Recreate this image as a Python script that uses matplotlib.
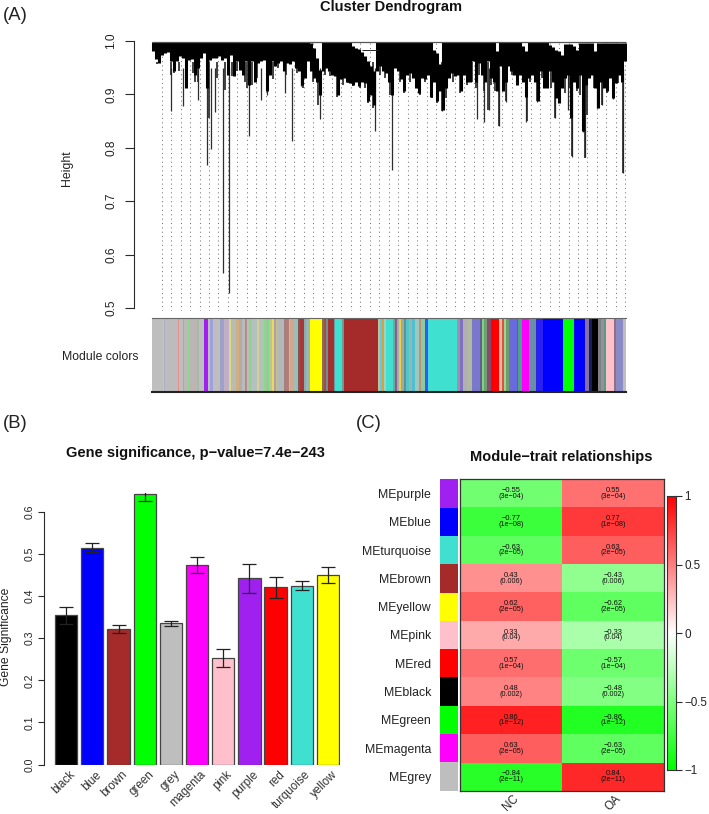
import numpy as np
import matplotlib
matplotlib.use("Agg")
import matplotlib.pyplot as plt
from matplotlib.colors import LinearSegmentedColormap

plt.rcParams['font.family'] = ['Liberation Sans', 'DejaVu Sans']

W, H = 709, 814
DARK = "#2a2a2a"

# (A) dendrogram, sampled left to right
dendro_low = [
    .981, .967, .959, .974, .978, .979, .962, .943, .962, .971, .968, .912, .965, .967, .937, .949, .968, .978,
    .912, .965, .968, .968, .971, .965, .968, .937, .974, .934, .962, .946, .937, .962, .918, .962, .924, .959,
    .962, .965, .906, .937, .962, .953, .959, .962, .943, .959, .956, .962, .949, .943, .918, .931, .962,
    .943, .931, .924, .899, .943, .949, .943, .937, .934, .899, .928, .931, .924, .921, .918, .924, .915, .924,
    .921, .887, .899, .881, .943, .953, .943, .940, .924, .899, .949, .943, .928, .906, .937, .940, .931, .912,
    .903, .931, .928, .937, .896, .924, .887, .906, .871, .912, .931, .940, .934, .937, .906, .937, .924,
    .924, .962, .924, .959, .937, .924, .962, .931, .924, .906, .953, .906, .924, .953, .943, .937, .918, .937,
    .924, .896, .931, .937, .924, .887, .943, .912, .912, .943, .924, .893, .884, .912, .931, .937, .856, .924,
    .912, .937, .831, .918, .931, .937, .912, .875, .924, .912, .906, .931, .893, .921, .937, .924, .962]
dendro_top = (
    [.998] * 53
    + [.996, .987, .968, .946] + [.998] * 10 + [.990, .987, .985, .979, .971, .962, .953, .943]
    + [.998] * 19 + [.984, .977, .956] + [.998] * 9
    + [.998] * 9 + [.981] + [.998] * 8 + [.990, .981] + [.998] * 7 + [.992, .988, .984, .981, .974]
    + [.994] * 3 + [.990, .984] + [.996] * 5 + [.981] + [.996] * 10)

spike_x = [171, 183, 198, 207, 211, 215, 222.7, 229, 249, 261, 267, 285, 292, 301, 320, 375, 392, 437, 442,
           477, 484, 489, 499, 506, 526, 537, 555, 568, 572, 583, 585, 597, 602, 613, 623]
spike_low = [.869, .878, .890, .767, .798, .867, .5655, .528, .823, .890, .899, .903, .812, .915, .853, .832,
             .758, .887, .868, .854, .848, .871, .840, .886, .848, .886, .855, .871, .783, .830, .782, .875,
             .880, .891, .752]
# shorter branches between the sampled columns
twig_x = [157, 171, 174, 179, 186, 193, 195, 198, 208, 209, 217, 225, 232, 237, 245, 247, 252, 257, 267, 273,
          278, 286, 297, 303,
          313, 318, 325, 330, 337, 343, 348, 353, 360, 365, 368, 373, 380, 385, 390, 400, 404, 410, 416, 420,
          425, 432, 437, 442, 446, 453, 460, 467,
          472, 476, 479, 484, 488, 491, 495, 499, 503, 506, 512, 518, 523, 527, 530, 537, 542, 547, 551, 555,
          559, 565, 569, 572, 577, 580, 585, 587, 594, 598, 602, 607, 613, 618, 623]
twig_low = [.956, .937, .940, .943, .937, .940, .924, .924, .912, .856, .931, .909, .934, .943, .924, .912, .918,
            .931, .906, .928, .949, .937, .940, .912,
            .924, .881, .937, .934, .896, .918, .921, .915, .912, .912, .884, .875, .937, .931, .899, .924, .903,
            .924, .912, .899, .924, .893, .884, .868, .893, .924, .903, .918,
            .924, .912, .937, .906, .871, .918, .906, .840, .906, .887, .937, .918, .931, .850, .924, .887, .931,
            .912, .912, .856, .887, .903, .912, .784, .906, .899, .781, .862, .912, .875, .881, .903, .893, .921,
            .753]

# (A) module colour strip
strip_colors = [
    "#bebebe", "#d0cc88", "#a8b0c0", "#bdbbbb", "#e88c8c", "#bebebe", "#a5a5d5", "#bbb8b8", "#8fd98f", "#bdb5b5",
    "#a4bca4", "#bebebe", "#a020f0", "#bebebe", "#a0a0e0", "#bebebe", "#a0a0cc", "#c0b0c0", "#c0a8e0", "#dcdc70",
    "#b8bcb8", "#cfae80", "#b8a8a8", "#b8bcb8", "#b88a8a", "#b8c0b8", "#90d090", "#b4c0c0", "#d8d090", "#b4c0c0",
    "#80e080", "#b0b8b0", "#70e070", "#c0c0a0", "#e8d860", "#b0a0a0", "#c0c090", "#b4b8b8", "#a08080", "#b47c78",
    "#c0c0a0", "#d0a890", "#b0b8a8", "#80c8c8", "#905050", "#a83838", "#80b0b0", "#a0b4b4", "#ffff00", "#8a7050",
    "#a04c4c", "#709090", "#a53030", "#60a0a0", "#40e0d0", "#709a90", "#a52a2a",
    "#c0c090", "#60c8e0", "#d8a040", "#a0d0c0", "#40e0d0", "#70a8a0", "#8a5a90", "#a0b0a8", "#e8d040", "#a0a8a0",
    "#6090a0", "#50c8c8", "#90b8b8", "#50c0d0", "#a0c8c0", "#b09878", "#90c8a0", "#2060ff", "#40e0d0",
    "#a090b0", "#8070c0", "#b0b0b0", "#b0b8a0", "#7a78cc", "#606090", "#80d080", "#70a070", "#8a4a70", "#ff0000",
    "#d8c0a0", "#e05040", "#a0d0a0", "#70a060", "#6a6ae0", "#9040c0", "#50a090", "#ff00ff", "#6890a0", "#2a20f0",
    "#0000ff", "#00ff00", "#0000ff", "#8a70a0", "#102060", "#000000", "#808080", "#9090a0", "#50a080", "#ffc0cb",
    "#907080", "#8a8ac8", "#bebebe"]
strip_widths = [
    11.3, 1, 1, 12.7, 1, 3.7, 1.7, 3, 1.3, 8.7,
    1.7, 5, 4, 2, 2.7, 7.3, 4, 3.3, 1.3, 2.3,
    5, 3.3, 2.7, 2.7, 2.7, 2, 1.7, 5.7, 1.7, 5,
    2, 2, 1.7, 2.3, 2, 2, 1.3, 6.7, 1.3, 4,
    1.3, 3.3, 2, 2, 2, 4, 2, 4, 12, 2,
    2.7, 2, 6, .7, 6.7, 2.7, 33.3,
    2, 2.3, 2.3, 2, 6.7, 2.3, 1.7, 2.3, 2, 2.3,
    2.7, 2.3, 3.3, 3.3, 3.3, 2.3, 4.3, 2.7, 29,
    3.3, 2.7, 4, 5, 8.3, 1.7, 2.3, 2.7, 4, 8,
    3.3, 2, 2.3, 2.7, 7.3, 1.7, 3.3, 7.3, 7, 6.7,
    20.7, 11, 11, 4, 2.7, 6.3, 2.3, 3.7, 1.7, 8.3,
    2, 7, 2.7]

# (B) gene significance
modules = ["black", "blue", "brown", "green", "grey", "magenta", "pink", "purple", "red", "turquoise", "yellow"]
bar_colors = ["black", "#0000ff", "#a52a2a", "#00ff00", "#bebebe", "#ff00ff", "#ffc0cb", "#a020f0", "#ff0000",
              "#40e0d0", "#ffff00"]
significance = [.354, .515, .322, .643, .336, .475, .253, .443, .421, .425, .451]
sig_upper = [.375, .526, .332, .665, .342, .493, .274, .477, .446, .436, .469]
sig_lower = [.333, .504, .312, .625, .329, .455, .232, .408, .396, .414, .431]

# (C) module-trait table
row_names = ["MEpurple", "MEblue", "MEturquoise", "MEbrown", "MEyellow", "MEpink", "MEred", "MEblack", "MEgreen",
             "MEmagenta", "MEgrey"]
row_colors = ["#a020f0", "#0000ff", "#40e0d0", "#a52a2a", "#ffff00", "#ffc0cb", "#ff0000", "#000000", "#00ff00",
              "#ff00ff", "#bebebe"]
traits = ["NC", "OA"]
corr_nc = [-0.55, -0.77, -0.63, 0.43, 0.62, 0.33, 0.57, 0.48, 0.86, 0.63, -0.84]
corr_oa = [0.55, 0.77, 0.63, -0.43, -0.62, -0.33, -0.57, -0.48, -0.86, -0.63, 0.84]
pvals = ["3e−04", "1e−08", "2e−05", "0.006", "2e−05", "0.04", "1e−04", "0.002", "1e−12", "2e−05", "2e−11"]


def px_axes(left, top, right, bottom):
    return fig.add_axes([left / W, 1 - bottom / H, (right - left) / W, (bottom - top) / H])


fig = plt.figure(figsize=(W / 100, H / 100), dpi=100, facecolor="white")

fig.text(2.5 / W, 1 - 15 / H, "(A)", fontsize=13.3, va="center", color="#222222")
fig.text(2.5 / W, 1 - 423 / H, "(B)", fontsize=13.3, va="center", color="#222222")
fig.text(356 / W, 1 - 423 / H, "(C)", fontsize=13.3, va="center", color="#222222")

# panel A
ax = px_axes(133.5, 41, 626.5, 311)
ax.set_xlim(133.5, 626.5)
ax.set_ylim(1 - 270 / 534, 1.0)
for x in np.linspace(161.7, 625.3, 50):
    ax.plot([x, x], [0.4944, 1.0], color="#777777", lw=0.75, ls=(0, (1, 3.2)), zorder=1)
leaf_x = np.linspace(153, 625, len(dendro_low))
ax.vlines(leaf_x, dendro_low, dendro_top, color="black", lw=2.2, zorder=3)
ax.vlines(spike_x, spike_low, 0.95, color="#2e2e2e", lw=0.9, zorder=2)
ax.vlines(twig_x, twig_low, 0.96, color="#222222", lw=1.2, zorder=2)
ax.hlines(0.999, 152, 626, color="#555555", lw=0.9, zorder=4)
ax.hlines(0.983, 362, 378, color="#222222", lw=0.7, zorder=4)
for s in ["top", "right", "bottom"]:
    ax.spines[s].set_visible(False)
ax.spines["left"].set_bounds(0.5, 1.0)
ax.spines["left"].set_color(DARK)
ax.spines["left"].set_linewidth(0.8)
ax.set_xticks([])
ax.set_yticks([0.5, 0.6, 0.7, 0.8, 0.9, 1.0])
ax.set_yticklabels(["0.5", "0.6", "0.7", "0.8", "0.9", "1.0"], rotation=90, va="center", fontsize=8.6,
                   color="#222222")
ax.tick_params(axis="y", length=6.5, width=0.8, color=DARK, pad=5)
fig.text(67 / W, 1 - 168 / H, "Height", rotation=90, ha="center", va="center", fontsize=8.8, color="#222222")
fig.text(391.5 / W, 1 - 7 / H, "Cluster Dendrogram", ha="center", va="center", fontsize=10.5, fontweight="bold",
         color="#111111")

ax = px_axes(152, 318, 626, 392)
lefts = np.concatenate([[0], np.cumsum(strip_widths)[:-1]])
ax.bar(lefts, 1, width=strip_widths, align="edge", color=strip_colors, lw=0, antialiased=False)
ax.set_xlim(0, sum(strip_widths))
ax.set_ylim(0, 1)
ax.set_xticks([])
ax.set_yticks([])
ax.spines["left"].set_visible(False)
ax.spines["right"].set_visible(False)
ax.spines["top"].set_color("#666666")
ax.spines["top"].set_linewidth(0.8)
ax.spines["bottom"].set_color("#222222")
ax.spines["bottom"].set_linewidth(1.5)
fig.text(139 / W, 1 - 357 / H, "Module colors", ha="right", va="center", fontsize=8.8, color="#222222")

# panel B
ax = px_axes(44, 493, 340, 764.5)
pos = np.arange(len(modules))
ax.bar(pos, significance, width=0.85, color=bar_colors, edgecolor="#444444", lw=0.9)
err = [np.array(significance) - np.array(sig_lower), np.array(sig_upper) - np.array(significance)]
ax.errorbar(pos, significance, yerr=err, fmt="none", ecolor="#222222", elinewidth=0.9, capsize=4.8, capthick=0.9)
ax.set_xlim(-22.2 / 26.17, 273.8 / 26.17)
ax.set_ylim(0, 0.645)
for s in ["top", "right", "bottom"]:
    ax.spines[s].set_visible(False)
ax.spines["left"].set_bounds(0, 0.6)
ax.spines["left"].set_color(DARK)
ax.spines["left"].set_linewidth(0.8)
ax.set_yticks([0, 0.1, 0.2, 0.3, 0.4, 0.5, 0.6])
ax.set_yticklabels(["0.0", "0.1", "0.2", "0.3", "0.4", "0.5", "0.6"], rotation=90, va="center", fontsize=7.6,
                   color="#222222")
ax.tick_params(axis="y", length=4.1, width=0.8, color=DARK, pad=3)
ax.set_xticks(pos + 0.12)
ax.set_xticklabels(modules, rotation=45, ha="right", va="top", rotation_mode="anchor", fontsize=8.4, color="#333333")
ax.tick_params(axis="x", length=0, pad=3)
fig.text(6 / W, 1 - 637 / H, "Gene Significance", rotation=90, ha="center", va="center", fontsize=8.7,
         color="#222222")
fig.text(195 / W, 1 - 453 / H, "Gene significance, p−value=7.4e−243", ha="center", va="center", fontsize=10.5,
         fontweight="bold", color="#111111")

# panel C
cmap = LinearSegmentedColormap.from_list("gwr", ["#00ff00", "#ffffff", "#ff0000"])
values = np.column_stack([corr_nc, corr_oa])
ax = px_axes(460, 479.3, 664, 790.7)
ax.imshow(values, cmap=cmap, vmin=-1, vmax=1, aspect="auto", interpolation="nearest")
for i in range(len(row_names)):
    for j in range(len(traits)):
        ax.text(j, i - 0.1, f"{values[i, j]:.2f}".replace("-", "−"), ha="center", va="center", fontsize=5.4,
                color="#111111")
        ax.text(j, i + 0.1, f"({pvals[i]})", ha="center", va="center", fontsize=5.2, color="#111111")
ax.set_xticks(range(len(traits)))
ax.set_xticklabels(traits, rotation=45, ha="center", va="top", fontsize=8.4, color="#222222")
ax.set_yticks([])
ax.tick_params(axis="x", length=0, pad=1.5)
for s in ax.spines.values():
    s.set_color("#333333")
    s.set_linewidth(0.9)

ax = px_axes(440, 479.3, 457.7, 790.7)
rows = np.arange(len(row_names))
ax.barh(rows, 1, height=1, left=0, color=row_colors, lw=0)
ax.set_xlim(0, 1)
ax.set_ylim(len(row_names) - 0.5, -0.5)
ax.set_xticks([])
ax.set_yticks(rows)
ax.set_yticklabels(row_names, fontsize=8.8, color="#222222")
ax.tick_params(axis="y", length=0, pad=6.5)
for s in ax.spines.values():
    s.set_visible(False)

ax = px_axes(667.3, 496, 676, 770)
ax.imshow(np.linspace(1, -1, 256).reshape(-1, 1), cmap=cmap, vmin=-1, vmax=1, aspect="auto",
          extent=[0, 1, -1, 1])
ax.set_xticks([])
ax.yaxis.tick_right()
ax.set_yticks([-1, -0.5, 0, 0.5, 1])
ax.set_yticklabels(["−1", "−0.5", "0", "0.5", "1"], fontsize=8.4, color="#222222")
ax.tick_params(axis="y", length=4, width=0.8, color=DARK, pad=2)
for s in ax.spines.values():
    s.set_color("#333333")
    s.set_linewidth(0.8)
fig.text(561.7 / W, 1 - 457 / H, "Module−trait relationships", ha="center", va="center", fontsize=10.5,
         fontweight="bold", color="#111111")

fig.savefig("out.png", dpi=100, facecolor="white")
